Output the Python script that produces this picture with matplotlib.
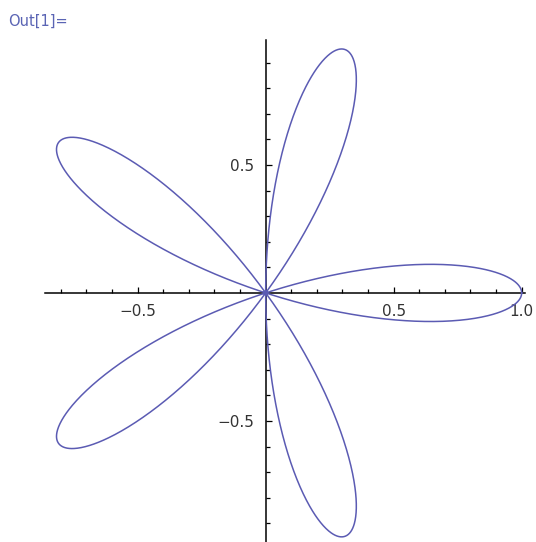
import numpy as np
import matplotlib.pyplot as plt
from matplotlib.ticker import FixedLocator, FuncFormatter

# rose curve r = a*cos(k*theta)
petal_count = 5
amplitude = 1.0

x_major = [-0.5, 0.5, 1.0]
y_major = [-0.5, 0.5]
x_minor = [-0.8, -0.7, -0.6, -0.4, -0.3, -0.2, -0.1, 0.1, 0.2, 0.3, 0.4, 0.6, 0.7, 0.8, 0.9]
y_minor = [-0.9, -0.8, -0.7, -0.6, -0.4, -0.3, -0.2, -0.1, 0.1, 0.2, 0.3, 0.4, 0.6, 0.7, 0.8, 0.9]

theta = np.linspace(0, np.pi, 2000)
r = amplitude * np.cos(petal_count * theta)
x = r * np.cos(theta)
y = r * np.sin(theta)

fig = plt.figure(figsize=(5.36, 5.42), dpi=100)
ax = fig.add_axes([45 / 536, 0, 480 / 536, 502 / 542])

ax.plot(x, y, color='#5b5bb3', lw=1.1, zorder=3)

ax.set_xlim(-0.862, 1.013)
ax.set_ylim(-0.973, 0.988)

for side in ['top', 'right']:
    ax.spines[side].set_visible(False)
for side in ['left', 'bottom']:
    ax.spines[side].set_position(('data', 0))
    ax.spines[side].set_linewidth(1.1)

ax.xaxis.set_major_locator(FixedLocator(x_major))
ax.xaxis.set_minor_locator(FixedLocator(x_minor))
ax.yaxis.set_major_locator(FixedLocator(y_major))
ax.yaxis.set_minor_locator(FixedLocator(y_minor))
fmt = FuncFormatter(lambda v, p: f"{v:.1f}".replace('-', '\u2212'))
ax.xaxis.set_major_formatter(fmt)
ax.yaxis.set_major_formatter(fmt)

ax.tick_params(which='both', direction='in', width=0.9, colors='black',
               labelcolor='#333333', labelsize=11, pad=8)
ax.tick_params(which='major', length=4.5)
ax.tick_params(which='minor', length=3)

fig.text(8 / 536, 1 - 21 / 542, 'Out[1]=', color='#5a64b4', fontsize=10.5,
         va='center', ha='left')

fig.savefig('out.png', dpi=100)
